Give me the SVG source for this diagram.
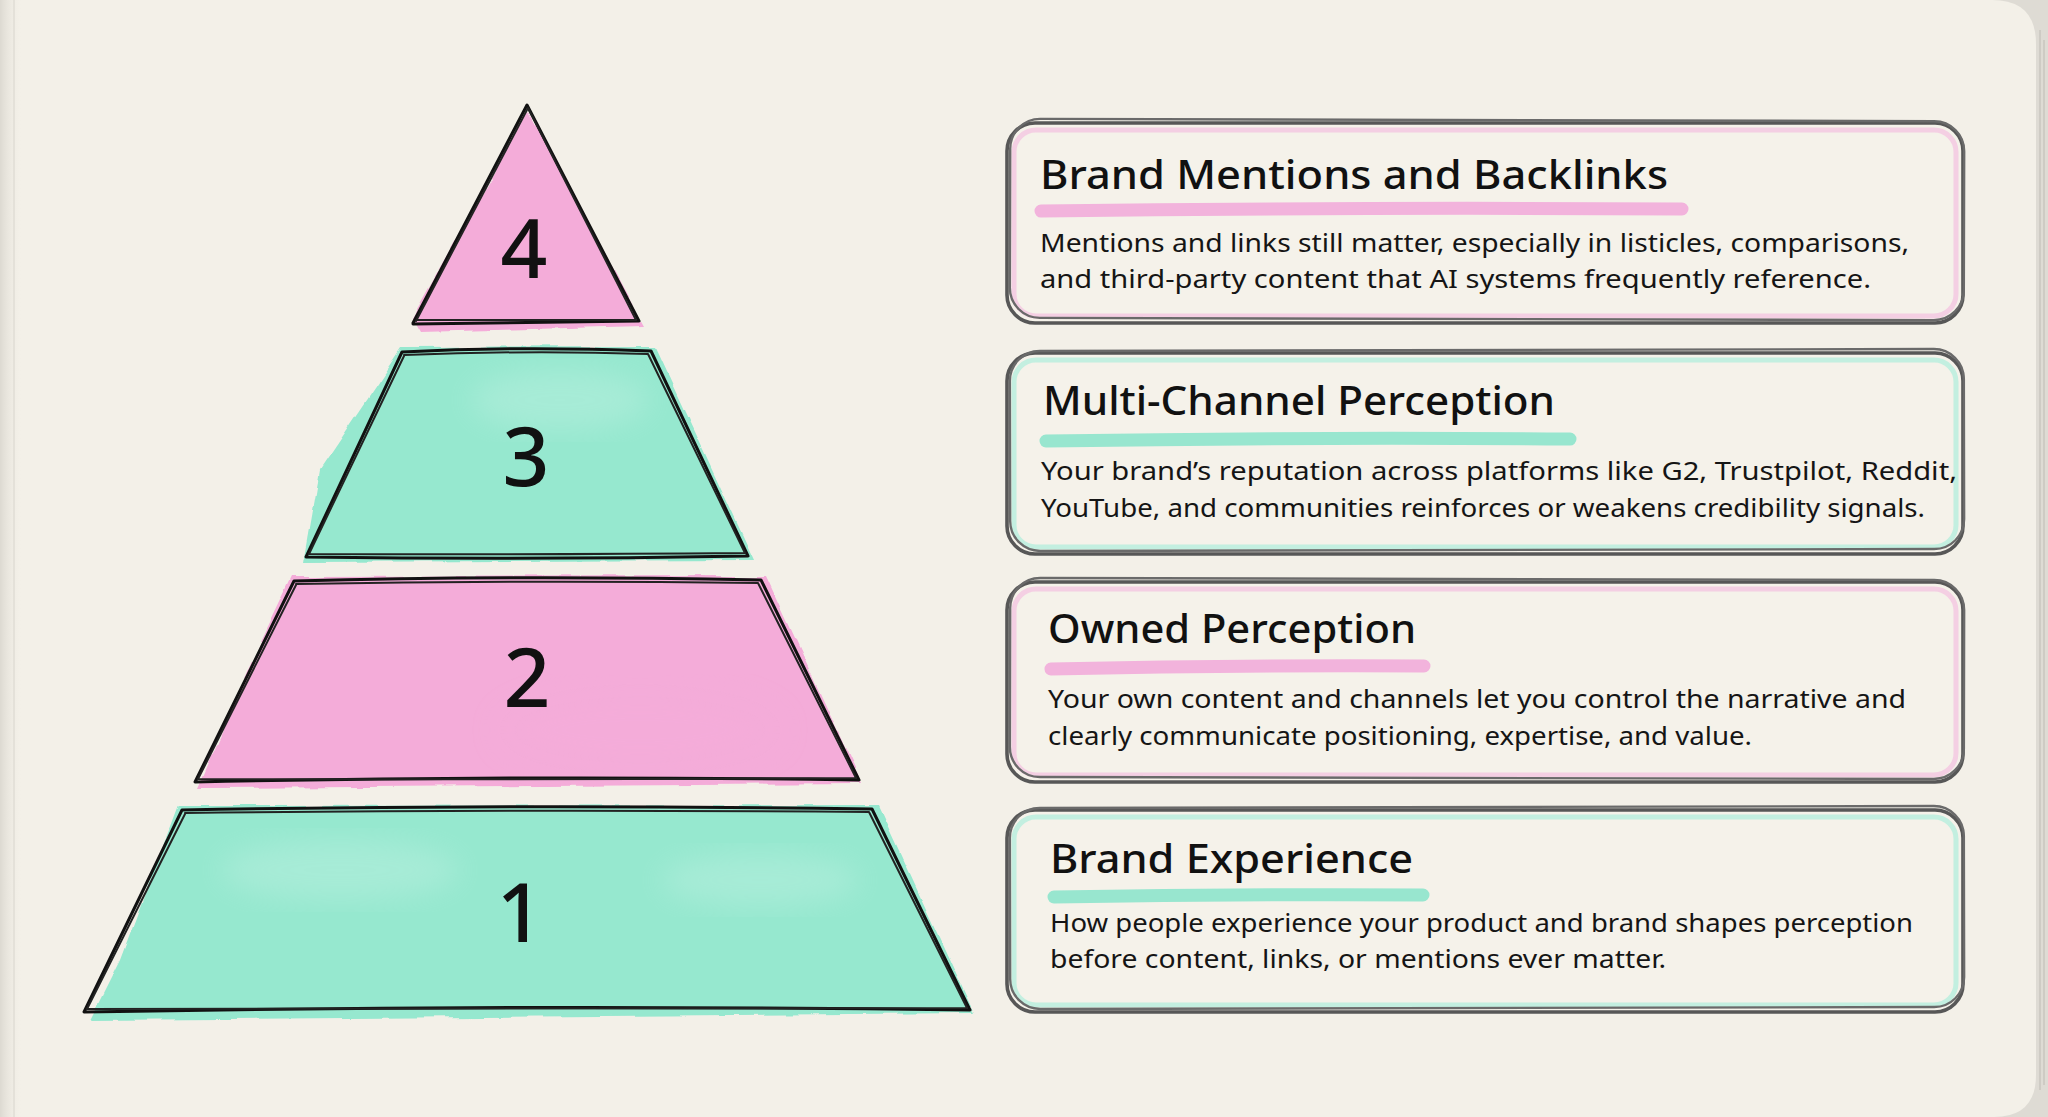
<svg xmlns="http://www.w3.org/2000/svg" width="2048" height="1117" viewBox="0 0 2048 1117">
  <defs>
    <style>
      .ink { fill: none; stroke: #111; stroke-width: 3; stroke-linejoin: round; stroke-linecap: round; }
      .ink2 { fill: none; stroke: #222; stroke-width: 2; stroke-linejoin: round; stroke-linecap: round; }
      .card { fill: #f5f2ea; stroke: #575757; stroke-width: 3.6; }
      .card2 { fill: none; stroke: #6a6a6a; stroke-width: 2.4; }
      .digit { font-family: "Noto Sans", "DejaVu Sans", sans-serif; font-size: 82px; font-weight: 500; fill: #111; text-anchor: middle; }
      .title { font-family: "Noto Sans", "Liberation Sans", sans-serif; font-size: 40px; font-weight: 500; fill: #111; }
      .body { font-family: "Noto Sans", "Liberation Sans", sans-serif; font-size: 25px; font-weight: 400; fill: #151515; }
      .pinkfill { fill: #f4acd9; }
      .mintfill { fill: #96e8cf; }
      .light { fill: #ffffff; opacity: 0.16; }
      .pinkline { stroke: #f2b3dc; stroke-width: 13; stroke-linecap: round; fill: none; }
      .mintline { stroke: #98e6cf; stroke-width: 13; stroke-linecap: round; fill: none; }
      .pinkglow { fill: none; stroke: #f3c0df; stroke-width: 5; opacity: 0.7; }
      .mintglow { fill: none; stroke: #aeeedb; stroke-width: 5; opacity: 0.7; }
    </style>
    <filter id="wc" x="-5%" y="-5%" width="110%" height="110%">
      <feTurbulence type="fractalNoise" baseFrequency="0.03" numOctaves="2" seed="3" result="n"/>
      <feDisplacementMap in="SourceGraphic" in2="n" scale="7" xChannelSelector="R" yChannelSelector="G"/>
    </filter>
    <filter id="soft" x="-20%" y="-20%" width="140%" height="140%">
      <feGaussianBlur stdDeviation="14"/>
    </filter>
    <linearGradient id="bind" x1="0" y1="0" x2="1" y2="0">
      <stop offset="0" stop-color="#dcd9d1"/>
      <stop offset="1" stop-color="#f3f0e8" stop-opacity="0"/>
    </linearGradient>
  </defs>

  <!-- page -->
  <rect x="0" y="0" width="2048" height="1117" fill="#dedbd4"/>
  <path d="M0,0 H1992 Q2036,0 2036,44 V1075 Q2036,1117 1994,1117 H0 Z" fill="#f3f0e8"/>
  <path d="M2040,30 V1090 M2044,40 V1085" stroke="#c9c6bf" stroke-width="1.5" fill="none"/>
  <rect x="0" y="0" width="22" height="1117" fill="url(#bind)"/>
  <line x1="14" y1="0" x2="14" y2="1117" stroke="#e4e1d9" stroke-width="2"/>

  <!-- tier 4 -->
  <g id="tier-4">
    <polygon class="pinkfill" filter="url(#wc)" points="528,112 644,326 420,332 412,318"/>
    <path class="ink" d="M413,323 L527,105 L639,321 L413,324"/>
    <path class="ink2" d="M416,321 L528,108 L636,320 L417,320"/>
    <text class="digit" x="524" y="278">4</text>
  </g>

  <!-- tier 3 -->
  <g id="tier-3">
    <polygon class="mintfill" filter="url(#wc)" points="402,348 656,347 754,560 304,562 320,470"/>
    <ellipse class="light" filter="url(#soft)" cx="560" cy="400" rx="90" ry="30"/>
    <path class="ink" d="M402,352 Q520,346 651,351 L748,556 Q530,560 306,557 Z"/>
    <path class="ink2" d="M404,355 Q530,350 648,354 L745,553 Q520,555 309,554 L404,356"/>
    <text class="digit" x="526" y="486">3</text>
  </g>

  <!-- tier 2 -->
  <g id="tier-2">
    <polygon class="pinkfill" filter="url(#wc)" points="292,577 766,576 862,784 198,788 262,640"/>
    <ellipse class="pinkfill" opacity="0.5" filter="url(#soft)" cx="640" cy="730" rx="140" ry="40"/>
    <path class="ink" d="M294,581 Q520,575 761,580 L859,780 Q520,775 195,782 Z"/>
    <path class="ink2" d="M296,584 Q530,580 758,583 L856,778 Q520,780 198,779 L296,585"/>
    <text class="digit" x="527" y="707">2</text>
  </g>

  <!-- tier 1 -->
  <g id="tier-1">
    <polygon class="mintfill" filter="url(#wc)" points="178,806 878,805 974,1013 90,1020 120,960"/>
    <ellipse class="light" filter="url(#soft)" cx="340" cy="870" rx="120" ry="30"/>
    <ellipse class="light" filter="url(#soft)" cx="760" cy="880" rx="100" ry="26"/>
    <path class="ink" d="M182,810 Q520,804 872,809 L970,1010 Q520,1004 84,1012 Z"/>
    <path class="ink2" d="M185,813 Q520,809 869,812 L967,1008 Q520,1009 87,1009 L185,814"/>
    <text class="digit" x="520" y="942">1</text>
  </g>

  <!-- cards -->
  <g id="card-4-brand-mentions">
    <rect class="card" x="1007" y="123" width="956" height="200" rx="28"/>
    <rect class="pinkglow" x="1014" y="130" width="942" height="186" rx="22"/>
    <rect class="card2" x="1010" y="120" width="954" height="199" rx="30" transform="rotate(0.15 1485 222)"/>
    <path class="pinkline" d="M1041,211 Q1360,207 1682,209"/>
    <text class="title" x="1040" y="189" textLength="628" lengthAdjust="spacingAndGlyphs">Brand Mentions and Backlinks</text>
    <text class="body" x="1040" y="252" textLength="869" lengthAdjust="spacingAndGlyphs">Mentions and links still matter, especially in listicles, comparisons,</text>
    <text class="body" x="1040" y="288" textLength="831" lengthAdjust="spacingAndGlyphs">and third-party content that AI systems frequently reference.</text>
  </g>

  <g id="card-3-multi-channel">
    <rect class="card" x="1007" y="353" width="956" height="201" rx="28"/>
    <rect class="mintglow" x="1014" y="360" width="942" height="187" rx="22"/>
    <rect class="card2" x="1010" y="350" width="954" height="200" rx="30" transform="rotate(-0.12 1485 453)"/>
    <path class="mintline" d="M1046,441 Q1300,437 1570,439"/>
    <text class="title" x="1043" y="415" textLength="512" lengthAdjust="spacingAndGlyphs">Multi-Channel Perception</text>
    <text class="body" x="1041" y="480" textLength="916" lengthAdjust="spacingAndGlyphs">Your brand’s reputation across platforms like G2, Trustpilot, Reddit,</text>
    <text class="body" x="1041" y="517" textLength="884" lengthAdjust="spacingAndGlyphs">YouTube, and communities reinforces or weakens credibility signals.</text>
  </g>

  <g id="card-2-owned">
    <rect class="card" x="1007" y="582" width="956" height="200" rx="28"/>
    <rect class="pinkglow" x="1014" y="589" width="942" height="186" rx="22"/>
    <rect class="card2" x="1010" y="579" width="954" height="199" rx="30" transform="rotate(0.12 1485 682)"/>
    <path class="pinkline" d="M1051,669 Q1240,665 1424,666"/>
    <text class="title" x="1048" y="643" textLength="368" lengthAdjust="spacingAndGlyphs">Owned Perception</text>
    <text class="body" x="1048" y="708" textLength="858" lengthAdjust="spacingAndGlyphs">Your own content and channels let you control the narrative and</text>
    <text class="body" x="1048" y="745" textLength="704" lengthAdjust="spacingAndGlyphs">clearly communicate positioning, expertise, and value.</text>
  </g>

  <g id="card-1-brand-experience">
    <rect class="card" x="1007" y="810" width="956" height="202" rx="28"/>
    <rect class="mintglow" x="1014" y="817" width="942" height="188" rx="22"/>
    <rect class="card2" x="1010" y="807" width="954" height="201" rx="30" transform="rotate(-0.12 1485 910)"/>
    <path class="mintline" d="M1054,897 Q1240,894 1423,895"/>
    <text class="title" x="1050" y="873" textLength="363" lengthAdjust="spacingAndGlyphs">Brand Experience</text>
    <text class="body" x="1050" y="932" textLength="863" lengthAdjust="spacingAndGlyphs">How people experience your product and brand shapes perception</text>
    <text class="body" x="1050" y="968" textLength="616" lengthAdjust="spacingAndGlyphs">before content, links, or mentions ever matter.</text>
  </g>

  <g id="connectors"/>
</svg>
